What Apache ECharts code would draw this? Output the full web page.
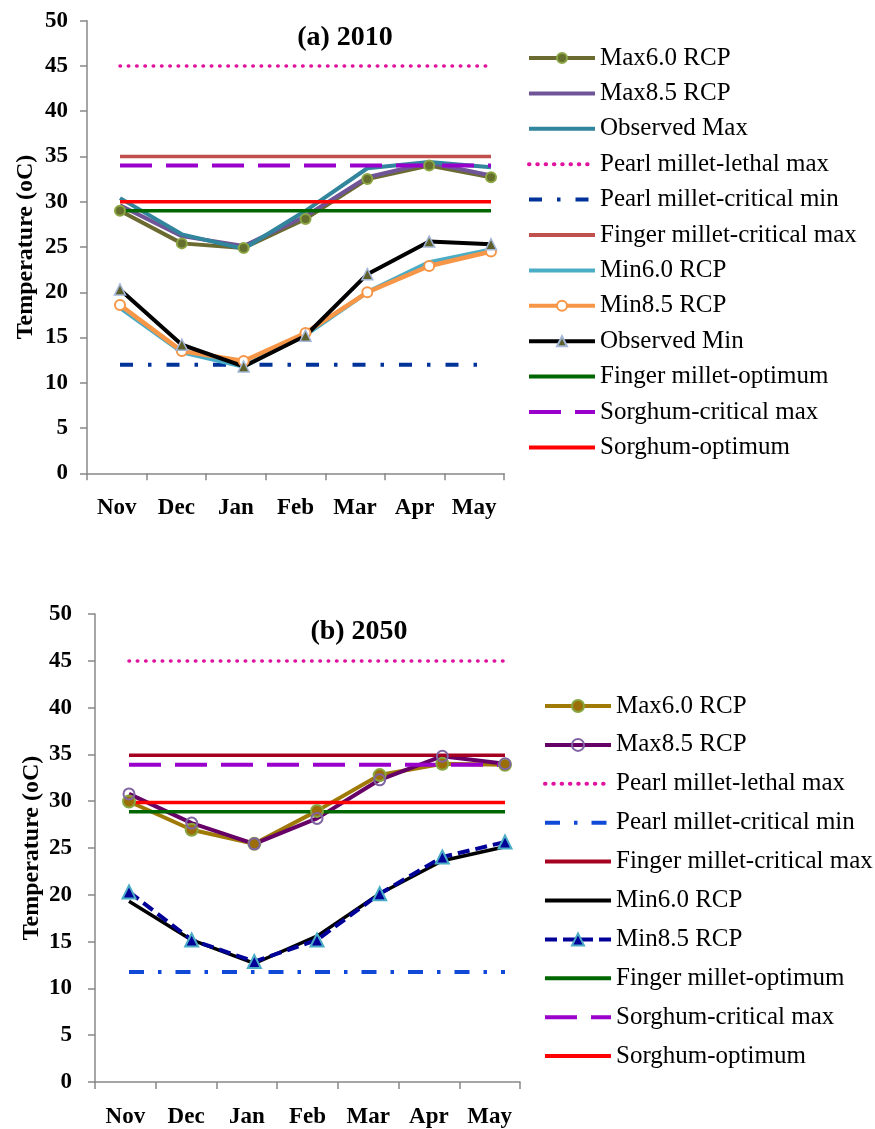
<!DOCTYPE html>
<html>
<head>
<meta charset="utf-8">
<script src="https://cdn.jsdelivr.net/npm/echarts@6/dist/echarts.min.js"></script>
<style>
html,body{margin:0;padding:0;background:#fff;}
#c1{position:absolute;left:0;top:0;width:875px;height:560px;}
#c2{position:absolute;left:0;top:560px;width:875px;height:569px;}
</style>
</head>
<body>
<div id="c1"></div>
<div id="c2"></div>
<script>
// ---------- data ----------
var months = ['Nov', 'Dec', 'Jan', 'Feb', 'Mar', 'Apr', 'May'];
var yTicks = [0, 5, 10, 15, 20, 25, 30, 35, 40, 45, 50];

// thresholds (same in both panels)
var pearlLethalMax   = [45, 45, 45, 45, 45, 45, 45];
var pearlCriticalMin = [12, 12, 12, 12, 12, 12, 12];
var fingerCriticalMax = [35, 35, 35, 35, 35, 35, 35];
var fingerOptimum    = [29, 29, 29, 29, 29, 29, 29];
var sorghumCriticalMax = [34, 34, 34, 34, 34, 34, 34];
var sorghumOptimum   = [30, 30, 30, 30, 30, 30, 30];

// (a) 2010
var max60_2010  = [29.0, 25.4, 24.9, 28.1, 32.5, 34.0, 32.7];
var max85_2010  = [29.6, 26.2, 25.1, 28.4, 32.7, 34.3, 32.9];
var obsMax_2010 = [30.4, 26.4, 24.8, 29.0, 33.7, 34.4, 33.8];
var min60_2010  = [18.3, 13.4, 11.8, 15.3, 20.0, 23.3, 24.7];
var min85_2010  = [18.6, 13.5, 12.4, 15.5, 20.0, 22.9, 24.5];
var obsMin_2010 = [20.3, 14.2, 11.8, 15.2, 22.0, 25.6, 25.3];

// (b) 2050
var max60_2050 = [30.1, 27.1, 25.6, 29.1, 32.9, 34.1, 34.0];
var max85_2050 = [30.9, 27.8, 25.6, 28.3, 32.4, 34.9, 34.1];
var min60_2050 = [19.5, 15.4, 12.9, 15.8, 20.3, 23.8, 25.3];
var min85_2050 = [20.5, 15.4, 13.1, 15.4, 20.3, 24.2, 25.8];

// ---------- helpers ----------
var FONT = '"Liberation Serif", "Times New Roman", serif';
var AXIS_COLOR = '#888888';

function axesFor(cfg) {
  // grid 0: visible axes; grid 1: hidden axes carrying the data
  return {
    grid: [
      {left: cfg.axLeft, width: cfg.axWidth, top: cfg.top, height: cfg.height},
      {left: cfg.dLeft, width: cfg.dWidth, top: cfg.top, height: cfg.height}
    ],
    xAxis: [
      {type: 'category', gridIndex: 0, data: months, boundaryGap: true,
       axisLine: {lineStyle: {color: AXIS_COLOR, width: 1.5}},
       axisTick: {show: true, length: 7, lineStyle: {color: AXIS_COLOR, width: 1.5}},
       axisLabel: {color: '#000', fontFamily: FONT, fontWeight: 'bold', fontSize: 23, margin: cfg.xMargin},
       splitLine: {show: false}},
      {type: 'category', gridIndex: 1, data: months, boundaryGap: false, show: false}
    ],
    yAxis: [
      {type: 'value', gridIndex: 0, min: 0, max: 50, interval: 5,
       name: 'Temperature (oC)', nameLocation: 'middle', nameRotate: 90, nameGap: cfg.nameGap,
       nameTextStyle: {color: '#000', fontFamily: FONT, fontWeight: 'bold', fontSize: 24},
       axisLine: {show: true, lineStyle: {color: AXIS_COLOR, width: 1.5}},
       axisTick: {show: true, length: 7, lineStyle: {color: AXIS_COLOR, width: 1.5}},
       axisLabel: {color: '#000', fontFamily: FONT, fontWeight: 'bold', fontSize: 23, margin: cfg.yMargin,
                   formatter: function (v) { return yTicks.indexOf(v) >= 0 ? String(v) : ''; }},
       splitLine: {show: false}},
      {type: 'value', gridIndex: 1, min: 0, max: 50, interval: 5, show: false, splitLine: {show: false}}
    ]
  };
}

function line(name, data, color, width, extra) {
  var s = {
    name: name, type: 'line', xAxisIndex: 1, yAxisIndex: 1, data: data,
    symbol: 'none', animation: false, silent: true,
    lineStyle: {color: color, width: width, type: 'solid'},
    itemStyle: {color: color}
  };
  if (extra) {
    for (var k in extra) {
      if (k === 'lineStyle') { for (var j in extra.lineStyle) s.lineStyle[j] = extra.lineStyle[j]; }
      else s[k] = extra[k];
    }
  }
  return s;
}

function legendData(series) {
  return series.map(function (s) {
    return s.symbol === 'none'
      ? {name: s.name, itemStyle: {opacity: 0, borderWidth: 0}}
      : {name: s.name};
  });
}

// ---------- chart (a) 2010 ----------
var optA = axesFor({axLeft: 87, axWidth: 417, dLeft: 120, dWidth: 371, top: 20.7, height: 452.6,
                    xMargin: 23, yMargin: 19, nameGap: 49});
optA.title = {text: '(a) 2010', left: 340, top: 19, textAlign: 'center',
              textStyle: {fontFamily: FONT, fontWeight: 'bold', fontSize: 28, color: '#000'}};
optA.series = [
  line('Max6.0 RCP', max60_2010, '#6B6A30', 4, {symbol: 'circle', symbolSize: 10,
       itemStyle: {color: '#66702E', borderColor: '#8CA644', borderWidth: 2}}),
  line('Max8.5 RCP', max85_2010, '#6F5597', 4),
  line('Observed Max', obsMax_2010, '#31859C', 4),
  line('Pearl millet-lethal max', pearlLethalMax, '#E0139E', 3.5, {lineStyle: {type: [0.5, 7.8], cap: 'round'}}),
  line('Pearl millet-critical min', pearlCriticalMin, '#003399', 4, {lineStyle: {type: [13, 15, 3.5, 15]}}),
  line('Finger millet-critical max', fingerCriticalMax, '#C0504D', 3.5),
  line('Min6.0 RCP', min60_2010, '#4BACC6', 4.5),
  line('Min8.5 RCP', min85_2010, '#F79646', 4.5, {symbol: 'circle', symbolSize: 10,
       itemStyle: {color: '#ffffff', borderColor: '#F79646', borderWidth: 2}}),
  line('Observed Min', obsMin_2010, '#000000', 4, {symbol: 'triangle', symbolSize: 11,
       itemStyle: {color: '#5E602C', borderColor: '#A3B6D6', borderWidth: 1.5}}),
  line('Finger millet-optimum', fingerOptimum, '#006600', 3.5),
  line('Sorghum-critical max', sorghumCriticalMax, '#9900CC', 4, {lineStyle: {type: [32, 14]}}),
  line('Sorghum-optimum', sorghumOptimum, '#FF0000', 3.5)
];
optA.legend = {orient: 'vertical', left: 527, top: 45.5, padding: 0, itemWidth: 66, itemHeight: 12.5,
               itemGap: 10.4, selectedMode: false, data: legendData(optA.series),
               lineStyle: {width: 4},
               textStyle: {color: '#000', fontFamily: FONT, fontSize: 25, lineHeight: 25}};

// ---------- chart (b) 2050 ----------
var optB = axesFor({axLeft: 95, axWidth: 425, dLeft: 129, dWidth: 376, top: 54, height: 471,
                    xMargin: 24, yMargin: 23, nameGap: 51});
optB.title = {text: '(b) 2050', left: 354, top: 53, textAlign: 'center',
              textStyle: {fontFamily: FONT, fontWeight: 'bold', fontSize: 28, color: '#000'}};
optB.series = [
  line('Max6.0 RCP', max60_2050, '#A07A06', 4, {symbol: 'circle', symbolSize: 12,
       itemStyle: {color: '#9C6E08', borderColor: '#88A640', borderWidth: 2}}),
  line('Max8.5 RCP', max85_2050, '#660066', 4, {symbol: 'circle', symbolSize: 11,
       itemStyle: {color: 'rgba(255,255,255,0)', borderColor: '#8064A2', borderWidth: 2}}),
  line('Pearl millet-lethal max', pearlLethalMax, '#E0139E', 3.5, {lineStyle: {type: [0.5, 7.8], cap: 'round'}}),
  line('Pearl millet-critical min', pearlCriticalMin, '#1048D8', 4, {lineStyle: {type: [15, 14, 3.5, 14]}}),
  line('Finger millet-critical max', fingerCriticalMax, '#A50021', 3.5),
  line('Min6.0 RCP', min60_2050, '#000000', 3.5),
  line('Min8.5 RCP', min85_2050, '#000099', 4, {lineStyle: {type: [12, 6]}, symbol: 'triangle', symbolSize: 13,
       itemStyle: {color: '#000099', borderColor: '#4BACC6', borderWidth: 2}}),
  line('Finger millet-optimum', fingerOptimum, '#006600', 3.5),
  line('Sorghum-critical max', sorghumCriticalMax, '#9900CC', 4, {lineStyle: {type: [32, 14]}}),
  line('Sorghum-optimum', sorghumOptimum, '#FF0000', 3.5)
];
optB.legend = {orient: 'vertical', left: 543, top: 133.5, padding: 0, itemWidth: 66, itemHeight: 15,
               itemGap: 13.9, selectedMode: false, data: legendData(optB.series),
               lineStyle: {width: 4},
               textStyle: {color: '#000', fontFamily: FONT, fontSize: 25, lineHeight: 25}};

var c1 = echarts.init(document.getElementById('c1'), null, {renderer: 'canvas'});
c1.setOption(optA);
var c2 = echarts.init(document.getElementById('c2'), null, {renderer: 'canvas'});
c2.setOption(optB);
</script>
</body>
</html>
